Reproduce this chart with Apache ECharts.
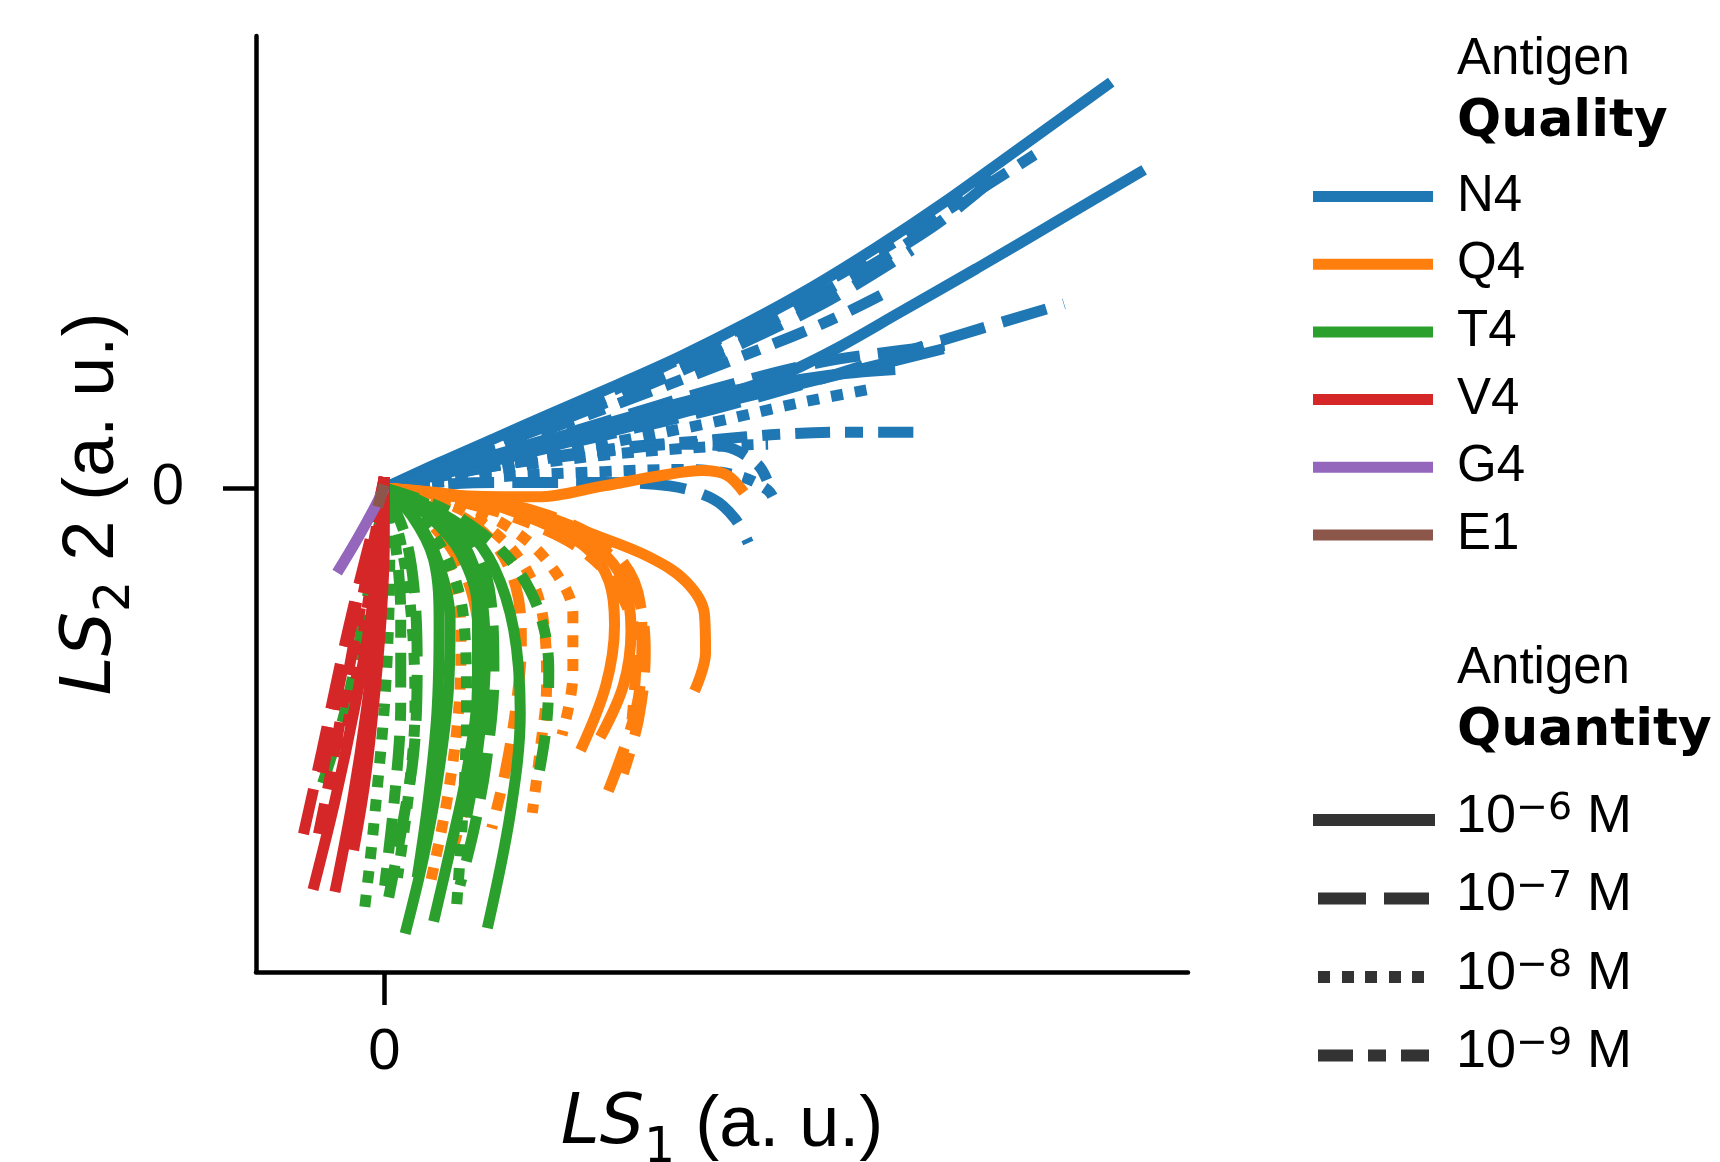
<!DOCTYPE html>
<html>
<head>
<meta charset="utf-8">
<script src="https://cdn.jsdelivr.net/npm/echarts@6/dist/echarts.min.js"></script>
<style>
  html, body { margin: 0; padding: 0; background: #fff; }
  #chart { width: 1720px; height: 1162px; }
</style>
</head>
<body>
<div id="chart"></div>
<script>
// antigen qualities and quantities
const qualityNames = ['N4', 'Q4', 'T4', 'V4', 'G4', 'E1']
const quantityLevels = ['1e-6', '1e-7', '1e-8', '1e-9']

// trajectories in latent space: [quantity, [[LS1, LS2], ...]]
const n4Traces = [
  ['1e-6', [[0,0],[0.5,0.23],[1.0,0.45],[1.5,0.67],[2.1,0.93],[2.7,1.2],[3.3,1.5],[3.9,1.83],[4.5,2.2],[5.1,2.6],[5.7,3.03],[6.2,3.39],[6.63,3.7]]],
  ['1e-6', [[0,0],[1.0,0.25],[2.0,0.52],[3.0,0.82],[3.6,1.02],[4.1,1.26],[4.7,1.6],[5.4,2.0],[6.2,2.47],[6.93,2.9]]],
  ['1e-9', [[0,0],[1.0,0.42],[2.0,0.85],[3.0,1.33],[4.0,1.86],[5.0,2.45],[5.95,3.05]]],
  ['1e-7', [[0,0],[1.0,0.4],[2.0,0.81],[3.0,1.26],[4.0,1.78],[5.0,2.38],[5.63,2.88]]],
  ['1e-7', [[0,0],[1.0,0.38],[2.0,0.77],[3.0,1.2],[4.0,1.68],[4.81,2.17]]],
  ['1e-9', [[0,0],[1.0,0.36],[2.0,0.72],[3.0,1.1],[4.0,1.5],[4.61,1.8]]],
  ['1e-7', [[0,0],[1.0,0.25],[2.0,0.48],[3.0,0.72],[4.0,1.0],[5.0,1.32],[6.2,1.68]]],
  ['1e-9', [[0,0],[1.0,0.2],[2.0,0.35],[3.0,0.44],[3.6,0.49],[4.3,0.51],[4.95,0.51]]],
  ['1e-7', [[0,0],[1.0,0.05],[2.0,0.05],[2.6,0.02],[3.0,-0.1],[3.2,-0.28],[3.32,-0.5]]],
  ['1e-8', [[0,0],[1.0,0.1],[2.0,0.15],[2.7,0.17],[3.2,0.12],[3.5,-0.02],[3.58,-0.17]]],
  ['1e-9', [[0,0],[1.0,0.2],[2.0,0.33],[2.7,0.4],[3.1,0.38],[3.4,0.22],[3.5,0.05]]],
  ['1e-6', [[0,0],[1.0,0.25],[2.0,0.5],[3.0,0.76],[4.0,1.0],[5.1,1.27]]],
  ['1e-8', [[0,0],[1.0,0.2],[2.0,0.4],[3.0,0.6],[3.8,0.78],[4.48,0.91]]],
  ['1e-7', [[0,0],[1.0,0.3],[2.0,0.6],[3.0,0.9],[4.0,1.15],[5.11,1.3]]],
  ['1e-6', [[0,0],[1.0,0.3],[2.0,0.58],[3.0,0.85],[4.0,1.02],[4.66,1.08]]],
  ['1e-8', [[0,0],[1.0,0.17],[2.0,0.3],[3.0,0.38],[3.5,0.4]]]
]

const q4Traces = [
  ['1e-6', [[0,0],[0.7,-0.07],[1.4,-0.08],[2.0,0.02],[2.5,0.11],[2.9,0.16],[3.12,0.12],[3.28,-0.04]]],
  ['1e-6', [[0,0],[0.7,-0.07],[1.3,-0.2],[1.9,-0.42],[2.4,-0.62],[2.75,-0.85],[2.92,-1.15],[2.93,-1.5],[2.83,-1.85]]],
  ['1e-6', [[0,0],[0.8,-0.1],[1.4,-0.3],[1.85,-0.55],[2.05,-0.85],[2.1,-1.25],[2.02,-1.8],[1.79,-2.39]]],
  ['1e-6', [[0,0],[0.9,-0.12],[1.5,-0.3],[1.95,-0.55],[2.18,-0.85],[2.25,-1.3],[2.18,-1.8],[1.97,-2.27]]],
  ['1e-7', [[0,0],[0.9,-0.1],[1.5,-0.25],[2.0,-0.5],[2.28,-0.85],[2.35,-1.35],[2.3,-2.0],[2.0,-2.87]]],
  ['1e-7', [[0,0],[0.9,-0.12],[1.55,-0.32],[2.05,-0.6],[2.3,-0.95],[2.38,-1.5],[2.32,-2.1],[2.18,-2.6]]],
  ['1e-9', [[0,0],[0.8,-0.15],[1.4,-0.35],[1.85,-0.6],[2.15,-0.95],[2.3,-1.45],[2.26,-2.11]]],
  ['1e-8', [[0,0],[0.6,-0.15],[1.0,-0.4],[1.3,-0.75],[1.45,-1.2],[1.48,-1.8],[1.42,-2.4],[1.35,-2.96]]],
  ['1e-7', [[0,0],[0.4,-0.3],[0.7,-0.7],[0.85,-1.2],[0.88,-1.8],[0.8,-2.6],[0.63,-3.27]]],
  ['1e-8', [[0,0],[0.35,-0.3],[0.6,-0.75],[0.7,-1.3],[0.68,-2.0],[0.58,-2.8],[0.42,-3.6]]],
  ['1e-8', [[0,0],[0.7,-0.15],[1.2,-0.4],[1.55,-0.75],[1.72,-1.15],[1.72,-1.7],[1.62,-2.25]]],
  ['1e-9', [[0,0],[0.6,-0.2],[1.0,-0.5],[1.2,-0.9],[1.25,-1.4],[1.2,-2.0],[1.1,-2.6],[0.98,-3.1]]]
]

const t4Traces = [
  ['1e-6', [[0,0],[0.36,-0.15],[0.75,-0.38],[1.0,-0.72],[1.18,-1.29],[1.24,-2.05],[1.15,-2.96],[0.94,-4.01]]],
  ['1e-6', [[0,0],[0.3,-0.3],[0.5,-0.7],[0.6,-1.2],[0.58,-1.9],[0.48,-2.7],[0.35,-3.4],[0.19,-4.06]]],
  ['1e-6', [[0,0],[0.4,-0.25],[0.7,-0.6],[0.85,-1.1],[0.85,-1.8],[0.75,-2.6],[0.6,-3.3],[0.45,-3.95]]],
  ['1e-8', [[0,0],[0.05,-0.5],[0.04,-1.2],[0.0,-2.0],[-0.07,-2.8],[-0.13,-3.4],[-0.19,-3.92]]],
  ['1e-7', [[0,0],[0.18,-0.4],[0.27,-0.9],[0.3,-1.6],[0.27,-2.4],[0.16,-3.1],[0.04,-3.73]]],
  ['1e-7', [[0,0],[0.45,-0.18],[0.8,-0.5],[0.97,-1.0],[1.0,-1.7],[0.93,-2.5],[0.82,-3.1],[0.69,-3.62]]],
  ['1e-8', [[0,0],[0.35,-0.3],[0.6,-0.7],[0.73,-1.25],[0.75,-2.0],[0.72,-2.9],[0.66,-3.8]]],
  ['1e-9', [[0,0],[0.5,-0.17],[0.9,-0.42],[1.2,-0.72],[1.42,-1.15],[1.5,-1.65],[1.48,-2.15],[1.4,-2.66]]],
  ['1e-7', [[0,0],[-0.08,-0.55],[-0.2,-1.25],[-0.35,-2.0],[-0.5,-2.5],[-0.6,-2.8]]],
  ['1e-9', [[0,0],[0.1,-0.5],[0.15,-1.15],[0.15,-1.95],[0.1,-2.75],[0.0,-3.65]]],
  ['1e-6', [[0,0],[0.25,-0.25],[0.45,-0.65],[0.5,-1.25],[0.48,-2.05],[0.4,-2.85],[0.3,-3.55]]],
  ['1e-8', [[0,0],[0.15,-0.5],[0.25,-1.2],[0.28,-2.0],[0.22,-2.8],[0.12,-3.55]]],
  ['1e-6', [[0,0],[0.45,-0.2],[0.72,-0.5],[0.88,-0.95],[0.92,-1.6],[0.85,-2.4],[0.75,-3.0]]]
]

const v4Traces = [
  ['1e-6', [[0,0.1],[-0.03,-0.4],[-0.12,-1.15],[-0.27,-2.0],[-0.45,-2.85],[-0.65,-3.66]]],
  ['1e-6', [[0,0.1],[-0.01,-0.5],[-0.07,-1.2],[-0.16,-2.0],[-0.29,-2.85],[-0.45,-3.68]]],
  ['1e-7', [[0,0.1],[-0.1,-0.35],[-0.25,-0.95],[-0.4,-1.6],[-0.57,-2.4],[-0.77,-3.3]]],
  ['1e-6', [[0,0.1],[0.0,-0.5],[-0.03,-1.2],[-0.1,-2.0],[-0.18,-2.7],[-0.28,-3.3]]],
  ['1e-9', [[0,0.1],[-0.08,-0.4],[-0.2,-1.0],[-0.33,-1.7],[-0.46,-2.45],[-0.6,-3.15]]],
  ['1e-7', [[0,0.1],[-0.1,-0.4],[-0.22,-0.9],[-0.35,-1.5],[-0.47,-2.1],[-0.58,-2.7]]],
  ['1e-8', [[0,0.1],[-0.06,-0.45],[-0.15,-1.05],[-0.26,-1.75],[-0.38,-2.4]]]
]

const g4Traces = [
  ['1e-6', [[0,0],[-0.1,-0.2],[-0.25,-0.47],[-0.43,-0.77]]]
]

const e1Traces = [
  ['1e-6', [[0,0.03],[-0.03,-0.07],[-0.06,-0.17]]]
]

const qualityColors = {
  N4: '#1f77b4', Q4: '#ff7f0e', T4: '#2ca02c',
  V4: '#d62728', G4: '#9467bd', E1: '#8c564b'
}
const dashFor = {
  '1e-6': 'solid',
  '1e-7': [46, 18],
  '1e-8': [12, 12],
  '1e-9': [35, 15, 18, 15]
}
// legend swatches for the quantity line styles (122 x 12 box)
const edge = 'M0 0h0.1v0.1h-0.1z M121.9 0h0.1v0.1h-0.1z '
const quantityIcons = {
  '1e-6': 'path://M0 0h122v12h-122z',
  '1e-7': 'path://' + edge + 'M5 0h48v12h-48z M71 0h45v12h-45z',
  '1e-8': 'path://' + edge + 'M5 0h12v12h-12z M29 0h12v12h-12z M52 0h12v12h-12z M76 0h12v12h-12z M99 0h12v12h-12z',
  '1e-9': 'path://' + edge + 'M5 0h35v12h-35z M55 0h18v12h-18z M88 0h28v12h-28z'
}

const groups = [
  ['N4', n4Traces], ['Q4', q4Traces], ['T4', t4Traces],
  ['V4', v4Traces], ['G4', g4Traces], ['E1', e1Traces]
]

const series = []
groups.forEach(([quality, traces]) => {
  const color = qualityColors[quality]
  traces.forEach(([conc, pts]) => {
    series.push({
      type: 'line',
      name: quality,
      data: pts,
      symbol: 'none',
      smooth: 0.35,
      silent: true,
      itemStyle: { color },
      lineStyle: { color, width: 11, type: dashFor[conc] }
    })
  })
})
// legend-only series for the quantity styles
quantityLevels.forEach(conc => {
  series.push({
    type: 'line',
    name: conc,
    data: [],
    symbol: 'none',
    itemStyle: { color: '#333' },
    lineStyle: { color: '#333', width: 12, type: dashFor[conc] }
  })
})

const chart = echarts.init(document.getElementById('chart'))

chart.setOption({
  animation: false,
  backgroundColor: '#fff',
  title: [
    {
      left: 1457, top: 29, padding: 0,
      text: '{a|Antigen}\n{b|Quality}',
      textStyle: {
        rich: {
          a: { fontSize: 51, fontFamily: 'Liberation Sans', fontWeight: 'normal', color: '#000', lineHeight: 62 },
          b: { fontSize: 52, fontFamily: 'DejaVu Sans', fontWeight: 'bold', color: '#000', lineHeight: 62 }
        }
      }
    },
    {
      left: 1457, top: 638, padding: 0,
      text: '{a|Antigen}\n{b|Quantity}',
      textStyle: {
        rich: {
          a: { fontSize: 51, fontFamily: 'Liberation Sans', fontWeight: 'normal', color: '#000', lineHeight: 62 },
          b: { fontSize: 52, fontFamily: 'DejaVu Sans', fontWeight: 'bold', color: '#000', lineHeight: 62 }
        }
      }
    }
  ],
  legend: [
    {
      orient: 'vertical',
      left: 1313, top: 171, padding: 0,
      itemWidth: 120, itemHeight: 11, itemGap: 16.7,
      icon: 'rect',
      selectedMode: false,
      data: qualityNames,
      textStyle: {
        fontSize: 51, fontFamily: 'Liberation Sans', color: '#000',
        lineHeight: 50, padding: [0, 0, 0, 19]
      }
    },
    {
      orient: 'vertical',
      left: 1313, top: 790, padding: 0,
      itemWidth: 122, itemHeight: 12, itemGap: 24.5,
      selectedMode: false,
      data: quantityLevels.map(name => ({ name, icon: quantityIcons[name] })),
      formatter: name => '{m|10}{s|\u2212' + name.split('-')[1] + '}{m| M}',
      textStyle: {
        color: '#000',
        padding: [0, 0, 0, 16],
        rich: {
          m: { fontSize: 54, fontFamily: 'Liberation Sans', color: '#000', lineHeight: 60, verticalAlign: 'top' },
          s: { fontSize: 38, fontFamily: 'DejaVu Sans', color: '#000', lineHeight: 25, verticalAlign: 'top' }
        }
      }
    }
  ],
  grid: {
    left: 256, right: 532, top: 36, bottom: 190,
    outerBoundsMode: 'none'
  },
  xAxis: {
    type: 'value',
    min: -1.17, max: 7.33,
    splitLine: { show: false },
    axisLine: { onZero: false, lineStyle: { color: '#000', width: 4.5 } },
    axisTick: { customValues: [0], length: 33, lineStyle: { color: '#000', width: 4.5 } },
    axisLabel: { customValues: [0], fontSize: 58, fontFamily: 'Liberation Sans', color: '#000', margin: 52 },
    name: '{i|LS}{s|1}{n| (a. u.)}',
    nameLocation: 'middle',
    nameGap: 118,
    nameTextStyle: {
      rich: {
        i: { fontSize: 70, fontFamily: 'DejaVu Sans', fontStyle: 'italic', color: '#000', lineHeight: 84, verticalAlign: 'top' },
        s: { fontSize: 49, fontFamily: 'DejaVu Sans', color: '#000', lineHeight: 44, verticalAlign: 'bottom' },
        n: { fontSize: 72, fontFamily: 'Liberation Sans', color: '#000', lineHeight: 84, verticalAlign: 'top' }
      }
    }
  },
  yAxis: {
    type: 'value',
    min: -4.41, max: 4.12,
    splitLine: { show: false },
    axisLine: { onZero: false, lineStyle: { color: '#000', width: 4.5 } },
    axisTick: { customValues: [0], length: 33, lineStyle: { color: '#000', width: 4.5 } },
    axisLabel: { customValues: [0], fontSize: 58, fontFamily: 'Liberation Sans', color: '#000', margin: 72 },
    name: '{i|LS}{s|2}{n| 2 (a. u.)}',
    nameLocation: 'middle',
    nameRotate: 90,
    nameGap: 113,
    nameTextStyle: {
      rich: {
        i: { fontSize: 70, fontFamily: 'DejaVu Sans', fontStyle: 'italic', color: '#000', lineHeight: 84, verticalAlign: 'top' },
        s: { fontSize: 49, fontFamily: 'DejaVu Sans', color: '#000', lineHeight: 44, verticalAlign: 'bottom' },
        n: { fontSize: 72, fontFamily: 'Liberation Sans', color: '#000', lineHeight: 84, verticalAlign: 'top' }
      }
    }
  },
  series
})

window.addEventListener('resize', () => chart.resize())
</script>
</body>
</html>
